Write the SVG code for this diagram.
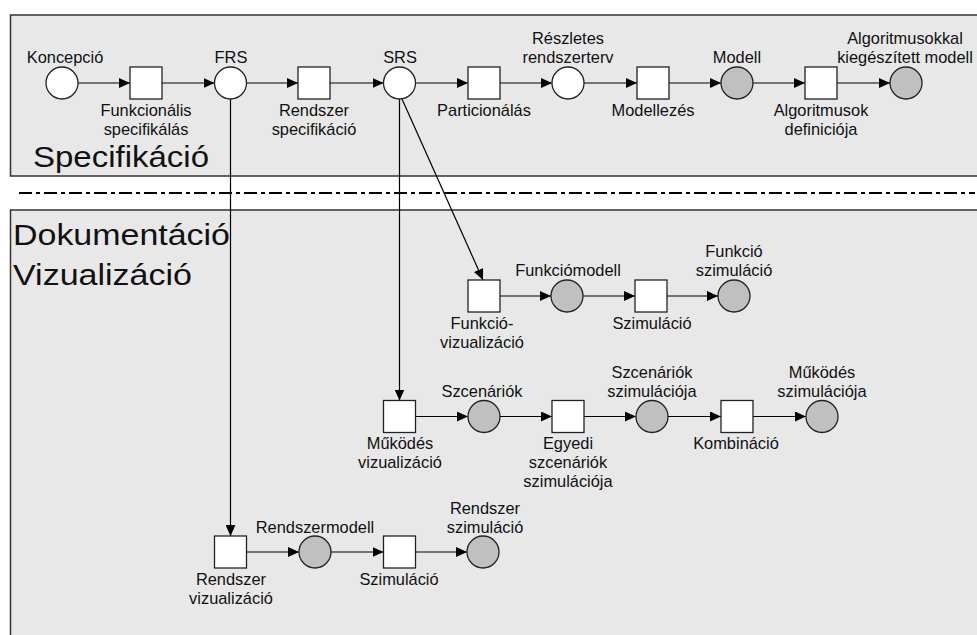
<svg xmlns="http://www.w3.org/2000/svg" width="977" height="635" viewBox="0 0 977 635">
  <defs>
    <marker id="arrow" markerUnits="userSpaceOnUse" markerWidth="11" markerHeight="10" refX="11" refY="5" orient="auto">
      <path d="M0,0 L11,5 L0,10 z" fill="#000"/>
    </marker>
    <style>
      .panel { fill: #e8e8e8; stroke: #333; stroke-width: 1.5; }
      .place { fill: #fff; stroke: #222; stroke-width: 1.3; }
      .place.done { fill: #c0c0c0; }
      .trans { fill: #fff; stroke: #222; stroke-width: 1.3; }
      .edge { stroke: #000; stroke-width: 1.2; fill: none; marker-end: url(#arrow); }
      .sep { stroke: #000; stroke-width: 2; stroke-dasharray: 13 4 4 4; fill: none; }
      text { font-family: "Liberation Sans", Arial, sans-serif; fill: #111; }
      .lbl { font-size: 16.4px; text-anchor: middle; }
      .big { font-size: 30px; }
    </style>
  </defs>

  <!-- swimlanes -->
  <g id="lane-spec">
    <rect class="panel" x="10.5" y="15" width="980" height="161"/>
    <text class="big" x="33" y="167" textLength="176" lengthAdjust="spacingAndGlyphs">Specifikáció</text>
  </g>
  <line class="sep" x1="19" y1="193" x2="975" y2="193"/>
  <g id="lane-doc">
    <rect class="panel" x="10.5" y="210" width="980" height="440"/>
    <text class="big" x="13" y="245" font-size="29" textLength="217" lengthAdjust="spacingAndGlyphs">Dokumentáció</text>
    <text class="big" x="13" y="285" font-size="29" textLength="179" lengthAdjust="spacingAndGlyphs">Vizualizáció</text>
  </g>

  <!-- connectors -->
  <g id="connectors">
    <!-- specification chain -->
    <line class="edge" x1="78" y1="83" x2="130" y2="83"/>
    <line class="edge" x1="162" y1="83" x2="214.5" y2="83"/>
    <line class="edge" x1="246.5" y1="83" x2="298" y2="83"/>
    <line class="edge" x1="330" y1="83" x2="383.5" y2="83"/>
    <line class="edge" x1="415.5" y1="83" x2="468" y2="83"/>
    <line class="edge" x1="500" y1="83" x2="552" y2="83"/>
    <line class="edge" x1="584" y1="83" x2="637" y2="83"/>
    <line class="edge" x1="669" y1="83" x2="721" y2="83"/>
    <line class="edge" x1="753" y1="83" x2="805" y2="83"/>
    <line class="edge" x1="837" y1="83" x2="890" y2="83"/>
    <!-- branches into documentation -->
    <line class="edge" x1="230.5" y1="99" x2="230.5" y2="536"/>
    <line class="edge" x1="399.5" y1="99" x2="399.5" y2="400.5"/>
    <line class="edge" x1="402" y1="99" x2="483" y2="280"/>
    <!-- function visualisation -->
    <line class="edge" x1="500" y1="296" x2="551" y2="296"/>
    <line class="edge" x1="583" y1="296" x2="635" y2="296"/>
    <line class="edge" x1="667" y1="296" x2="718" y2="296"/>
    <!-- operation visualisation -->
    <line class="edge" x1="415.5" y1="416.5" x2="468" y2="416.5"/>
    <line class="edge" x1="500" y1="416.5" x2="552" y2="416.5"/>
    <line class="edge" x1="584" y1="416.5" x2="636" y2="416.5"/>
    <line class="edge" x1="668" y1="416.5" x2="721" y2="416.5"/>
    <line class="edge" x1="753" y1="416.5" x2="806" y2="416.5"/>
    <!-- system visualisation -->
    <line class="edge" x1="246.5" y1="552" x2="299" y2="552"/>
    <line class="edge" x1="331" y1="552" x2="383.5" y2="552"/>
    <line class="edge" x1="415.5" y1="552" x2="467" y2="552"/>
  </g>

  <!-- specification row -->
  <g id="koncepcio">
    <circle class="place" cx="62" cy="83" r="16"/>
    <text class="lbl" x="65" y="63">Koncepció</text>
  </g>
  <g id="funkcionalis-specifikalas">
    <rect class="trans" x="130" y="67" width="32" height="32"/>
    <text class="lbl" x="146" y="116">Funkcionális</text>
    <text class="lbl" x="146" y="135">specifikálás</text>
  </g>
  <g id="frs">
    <circle class="place" cx="230.5" cy="83" r="16"/>
    <text class="lbl" x="231" y="63">FRS</text>
  </g>
  <g id="rendszer-specifikacio">
    <rect class="trans" x="298" y="67" width="32" height="32"/>
    <text class="lbl" x="314" y="116">Rendszer</text>
    <text class="lbl" x="314" y="135">specifikáció</text>
  </g>
  <g id="srs">
    <circle class="place" cx="399.5" cy="83" r="16"/>
    <text class="lbl" x="400" y="63">SRS</text>
  </g>
  <g id="particionalas">
    <rect class="trans" x="468" y="67" width="32" height="32"/>
    <text class="lbl" x="484" y="116">Particionálás</text>
  </g>
  <g id="reszletes-rendszerterv">
    <circle class="place" cx="568" cy="83" r="16"/>
    <text class="lbl" x="568" y="44">Részletes</text>
    <text class="lbl" x="568" y="63">rendszerterv</text>
  </g>
  <g id="modellezes">
    <rect class="trans" x="637" y="67" width="32" height="32"/>
    <text class="lbl" x="653" y="116">Modellezés</text>
  </g>
  <g id="modell">
    <circle class="place done" cx="737" cy="83" r="16"/>
    <text class="lbl" x="737" y="63">Modell</text>
  </g>
  <g id="algoritmusok-definicioja">
    <rect class="trans" x="805" y="67" width="32" height="32"/>
    <text class="lbl" x="821" y="116">Algoritmusok</text>
    <text class="lbl" x="821" y="135">definiciója</text>
  </g>
  <g id="kiegeszitett-modell">
    <circle class="place done" cx="906" cy="83" r="16"/>
    <text class="lbl" x="905" y="44">Algoritmusokkal</text>
    <text class="lbl" x="905" y="63">kiegészített modell</text>
  </g>

  <!-- function visualisation row -->
  <g id="funkcio-vizualizacio">
    <rect class="trans" x="468" y="280" width="32" height="32"/>
    <text class="lbl" x="482" y="329">Funkció-</text>
    <text class="lbl" x="482" y="348">vizualizáció</text>
  </g>
  <g id="funkciomodell">
    <circle class="place done" cx="567" cy="296" r="16"/>
    <text class="lbl" x="568" y="276">Funkciómodell</text>
  </g>
  <g id="funkcio-szimulacio-lepes">
    <rect class="trans" x="635" y="280" width="32" height="32"/>
    <text class="lbl" x="652" y="329">Szimuláció</text>
  </g>
  <g id="funkcio-szimulacio">
    <circle class="place done" cx="734" cy="296" r="16"/>
    <text class="lbl" x="734" y="257">Funkció</text>
    <text class="lbl" x="734" y="276">szimuláció</text>
  </g>

  <!-- operation visualisation row -->
  <g id="mukodes-vizualizacio">
    <rect class="trans" x="383.5" y="400.5" width="32" height="32"/>
    <text class="lbl" x="400" y="449">Működés</text>
    <text class="lbl" x="400" y="468">vizualizáció</text>
  </g>
  <g id="szcenariok">
    <circle class="place done" cx="484" cy="416.5" r="16"/>
    <text class="lbl" x="482" y="397">Szcenáriók</text>
  </g>
  <g id="egyedi-szcenariok">
    <rect class="trans" x="552" y="400.5" width="32" height="32"/>
    <text class="lbl" x="568" y="449">Egyedi</text>
    <text class="lbl" x="568" y="468">szcenáriók</text>
    <text class="lbl" x="568" y="487">szimulációja</text>
  </g>
  <g id="szcenariok-szimulacioja">
    <circle class="place done" cx="652" cy="416.5" r="16"/>
    <text class="lbl" x="652" y="378">Szcenáriók</text>
    <text class="lbl" x="652" y="397">szimulációja</text>
  </g>
  <g id="kombinacio">
    <rect class="trans" x="721" y="400.5" width="32" height="32"/>
    <text class="lbl" x="736" y="449">Kombináció</text>
  </g>
  <g id="mukodes-szimulacioja">
    <circle class="place done" cx="822" cy="416.5" r="16"/>
    <text class="lbl" x="822" y="378">Működés</text>
    <text class="lbl" x="822" y="397">szimulációja</text>
  </g>

  <!-- system visualisation row -->
  <g id="rendszer-vizualizacio">
    <rect class="trans" x="214.5" y="536" width="32" height="32"/>
    <text class="lbl" x="231" y="585">Rendszer</text>
    <text class="lbl" x="231" y="604">vizualizáció</text>
  </g>
  <g id="rendszermodell">
    <circle class="place done" cx="315" cy="552" r="16"/>
    <text class="lbl" x="315" y="533">Rendszermodell</text>
  </g>
  <g id="rendszer-szimulacio-lepes">
    <rect class="trans" x="383.5" y="536" width="32" height="32"/>
    <text class="lbl" x="399" y="585">Szimuláció</text>
  </g>
  <g id="rendszer-szimulacio">
    <circle class="place done" cx="483" cy="552" r="16"/>
    <text class="lbl" x="485" y="514">Rendszer</text>
    <text class="lbl" x="485" y="533">szimuláció</text>
  </g>
</svg>
